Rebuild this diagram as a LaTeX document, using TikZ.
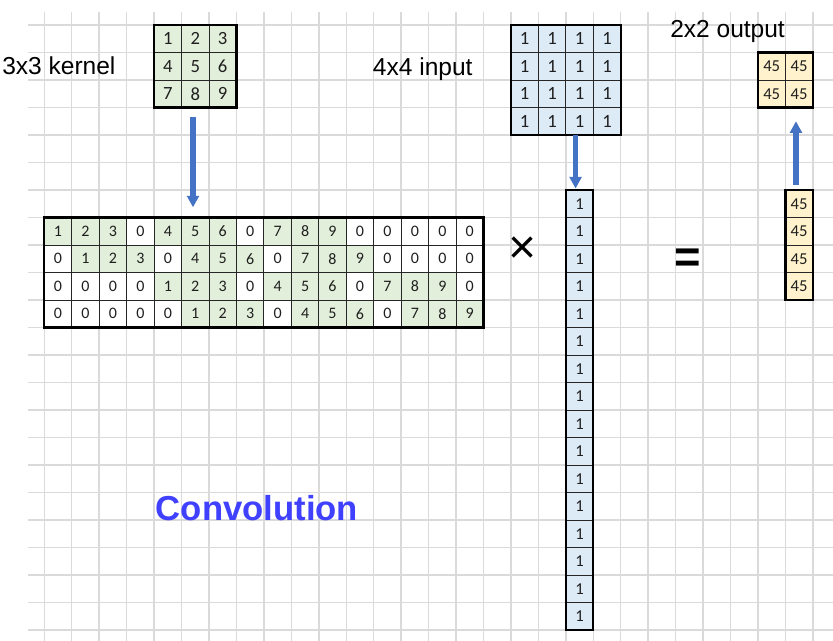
\documentclass[tikz,border=0pt]{standalone}
\usepackage{fontspec}
\setmainfont{Liberation Sans}
\newfontfamily\cellfont{Carlito}
\usetikzlibrary{arrows.meta,calc}
\definecolor{gridgray}{RGB}{218,218,218}
\definecolor{kgreen}{RGB}{226,239,218}
\definecolor{iblue}{RGB}{221,235,247}
\definecolor{oyellow}{RGB}{255,242,204}
\definecolor{arrowblue}{RGB}{68,114,196}
\definecolor{convblue}{RGB}{64,64,255}
\tikzset{
  gridline/.style={draw=gridgray, line width=1.1pt},
  cell/.style={draw=black!85, line width=0.7pt, minimum width=20.5875pt, minimum height=20.625pt,
    inner sep=0pt, outer sep=0pt, text=black!88},
  bigfont/.style={font=\cellfont\fontsize{14pt}{15pt}\selectfont},
  outfont/.style={font=\cellfont\fontsize{12.5pt}{13pt}\selectfont},
  smallfont/.style={font=\cellfont\fontsize{12pt}{13pt}\selectfont},
  vecfont/.style={font=\cellfont\fontsize{12.5pt}{13pt}\selectfont},
  outerbox/.style={draw=black, line width=1.7pt},
  arr/.style={draw=arrowblue, line width=4.2pt, -{Triangle[width=9.5pt,length=8.5pt,line width=0pt]}},
  lbl/.style={anchor=base west, inner sep=0pt, font=\fontsize{18.4pt}{22pt}\selectfont}
}
\begin{document}
\begin{tikzpicture}[x=0.75pt,y=-0.75pt]
\useasboundingbox (0,0) rectangle (833,641);
\fill[white] (0,0) rectangle (833,641);
% background grid
\foreach \k in {0,...,28} \draw[gridline] ({44.3+27.45*\k},12.3) -- ({44.3+27.45*\k},641);
\foreach \k in {0,...,22} \draw[gridline] (28,{25+27.5*\k}) -- (833,{25+27.5*\k});

% kernel 3x3 (cols 4-6, rows 0-2)
\foreach \v [count=\i from 0] in {1,2,3,4,5,6,7,8,9} {
  \pgfmathtruncatemacro\r{\i/3}
  \pgfmathtruncatemacro\c{mod(\i,3)}
  \node[cell, bigfont, fill=kgreen] (k-\r-\c) at ({44.3+27.45*(4+\c+0.5)},{25+27.5*(\r+0.5)}) {\v};
}
\draw[outerbox] (k-0-0.north west) rectangle (k-2-2.south east);

% input 4x4 (cols 17-20, rows 0-3)
\foreach \i in {0,...,15} {
  \pgfmathtruncatemacro\r{\i/4}
  \pgfmathtruncatemacro\c{mod(\i,4)}
  \node[cell, bigfont, fill=iblue] (in-\r-\c) at ({44.3+27.45*(17+\c+0.5)},{25+27.5*(\r+0.5)}) {1};
}
\draw[outerbox] (in-0-0.north west) rectangle (in-3-3.south east);

% output 2x2 (cols 26-27, rows 1-2)
\foreach \i in {0,...,3} {
  \pgfmathtruncatemacro\r{\i/2}
  \pgfmathtruncatemacro\c{mod(\i,2)}
  \node[cell, outfont, fill=oyellow] (om-\r-\c) at ({44.3+27.45*(26+\c+0.5)},{25+27.5*(1+\r+0.5)}) {45};
}
\draw[outerbox] (om-0-0.north west) rectangle (om-1-1.south east);

% big matrix (cols 0-15, rows 7-10)
\foreach \row [count=\r from 0] in {{1,2,3,0,4,5,6,0,7,8,9,0,0,0,0,0},{0,1,2,3,0,4,5,6,0,7,8,9,0,0,0,0},{0,0,0,0,1,2,3,0,4,5,6,0,7,8,9,0},{0,0,0,0,0,1,2,3,0,4,5,6,0,7,8,9}} {
  \foreach \v [count=\c from 0] in \row {
    \ifnum\v=0 \def\fc{white}\else\def\fc{kgreen}\fi
    \node[cell, smallfont, fill=\fc] (b-\r-\c) at ({44.3+27.45*(\c+0.5)},{25+27.5*(7+\r+0.5)}) {\v};
  }
}
\draw[outerbox] (b-0-0.north west) rectangle (b-3-15.south east);

% column vector of input (col 19, rows 6-21)
\foreach \i in {0,...,15} {
  \node[cell, vecfont, fill=iblue] (v-\i) at ({44.3+27.45*(19+0.5)},{25+27.5*(6+\i+0.5)}) {1};
}
\draw[outerbox] (v-0.north west) rectangle (v-15.south east);

% output column (col 27, rows 6-9)
\foreach \i in {0,...,3} {
  \node[cell, outfont, fill=oyellow] (oc-\i) at ({44.3+27.45*(27+0.5)},{25+27.5*(6+\i+0.5)}) {45};
}
\draw[outerbox] (oc-0.north west) rectangle (oc-3.south east);

% arrows
\draw[arr, shorten <=7pt, shorten >=7.8pt] ([xshift=-1.7pt]k-2-1.south) -- ([xshift=-1.7pt]b-0-5.north);
\draw[arr, shorten >=1.3pt] ([xshift=-3pt]in-3-2.south) -- ([xshift=-3pt]v-0.north);
\draw[arr, shorten <=3.7pt, shorten >=10.5pt] ([xshift=-2.4pt]oc-0.north) -- ([xshift=-2.4pt]om-1-1.south);

% labels
\node[lbl] (klabel) at (2,75) {3x3 kernel};
\node[lbl] (ilabel) at (372.7,76) {4x4 input};
\node[lbl] (olabel) at (670,38) {2x2 output};
\node[anchor=base west, inner sep=0pt, text=convblue, font=\bfseries\fontsize{26pt}{30pt}\selectfont] (conv) at (155.7,520.7) {Convolution};
\node[inner sep=0pt, font=\fontsize{36pt}{36pt}\selectfont] (times) at (523,250) {×};
\node[inner sep=0pt, font=\bfseries\fontsize{34pt}{34pt}\selectfont] (equals) at (688,261) {=};
\end{tikzpicture}
\end{document}
